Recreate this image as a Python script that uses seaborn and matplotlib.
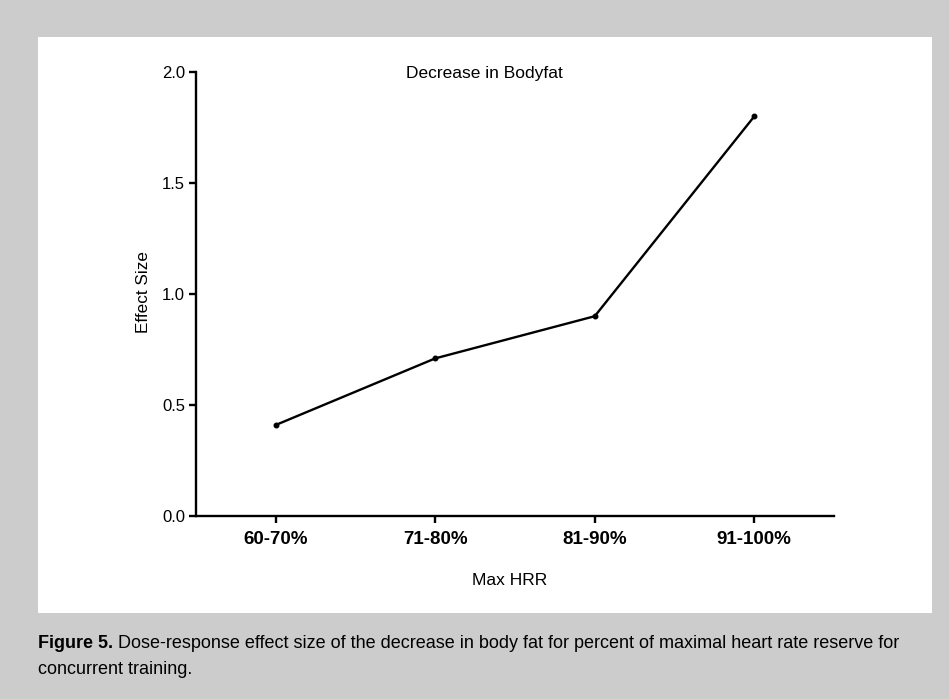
import matplotlib
matplotlib.use("Agg")
import matplotlib.pyplot as plt
import seaborn as sns
import pandas as pd
from matplotlib.patches import Rectangle

# data
hrr_groups = ["60-70%", "71-80%", "81-90%", "91-100%"]
effect_size = [0.41, 0.71, 0.90, 1.80]
y_ticks = [0.0, 0.5, 1.0, 1.5, 2.0]

df = pd.DataFrame({"Max HRR": hrr_groups, "Effect Size": effect_size})

sns.set_style("ticks")
plt.rcParams["font.family"] = ["Liberation Sans", "DejaVu Sans"]
plt.rcParams["text.color"] = "black"
plt.rcParams["axes.labelcolor"] = "black"
plt.rcParams["xtick.color"] = "black"
plt.rcParams["ytick.color"] = "black"
plt.rcParams["axes.edgecolor"] = "black"

W, H = 949, 699
fig = plt.figure(figsize=(W / 100, H / 100), dpi=100)
fig.patch.set_facecolor("#cccccc")

# white panel behind the chart
fig.patches.append(Rectangle((38 / W, 1 - 613 / H), (932 - 38) / W, (613 - 37) / H,
                             transform=fig.transFigure, facecolor="white",
                             edgecolor="none", zorder=-1))

ax = fig.add_axes([196 / W, 1 - 516 / H, (834 - 196) / W, (516 - 72) / H])
ax.set_facecolor("none")
ax.set_zorder(2)

sns.pointplot(data=df, x="Max HRR", y="Effect Size", color="black",
              markers="o", markersize=3, linewidth=1.7, ax=ax)

ax.set_xlim(-0.5, 3.5)
ax.set_ylim(0, 2.0)
ax.set_yticks(y_ticks)
ax.set_yticklabels([f"{v:.1f}" for v in y_ticks], fontsize=12)
ax.set_xticks(range(len(hrr_groups)))
ax.set_xticklabels(hrr_groups, fontsize=13.5, fontweight="bold")
ax.tick_params(axis="both", width=1.7, length=5, color="black")
ax.tick_params(axis="x", pad=6)
ax.tick_params(axis="y", pad=3)

for s in ["top", "right"]:
    ax.spines[s].set_visible(False)
for s in ["left", "bottom"]:
    ax.spines[s].set_linewidth(1.7)

ax.set_xlabel("Max HRR", fontsize=12.5)
ax.xaxis.set_label_coords((510 - 196) / (834 - 196), -(573 - 516) / (516 - 72))
ax.set_ylabel("Effect Size", fontsize=12.3)
ax.yaxis.set_label_coords(-(196 - 151) / (834 - 196), (516 - 292) / (516 - 72))
ax.text((484 - 196) / (834 - 196), 1.0 - 1 / (516 - 72), "Decrease in Bodyfat",
        transform=ax.transAxes, ha="center", va="center", fontsize=12.5)

# caption: bold lead-in, then the rest placed right after it
cap_y = 1 - 643 / H
lead = fig.text(38 / W, cap_y, "Figure 5.", fontsize=13, fontweight="bold",
                ha="left", va="center")
fig.canvas.draw()
bb = lead.get_window_extent()
fig.text((bb.x1 + 5) / W, cap_y,
         "Dose-response effect size of the decrease in body fat for percent of maximal heart rate reserve for",
         fontsize=13, ha="left", va="center")
fig.text(38 / W, 1 - 669 / H, "concurrent training.", fontsize=13, ha="left",
         va="center")

fig.savefig("out.png", dpi=100, facecolor=fig.get_facecolor())
